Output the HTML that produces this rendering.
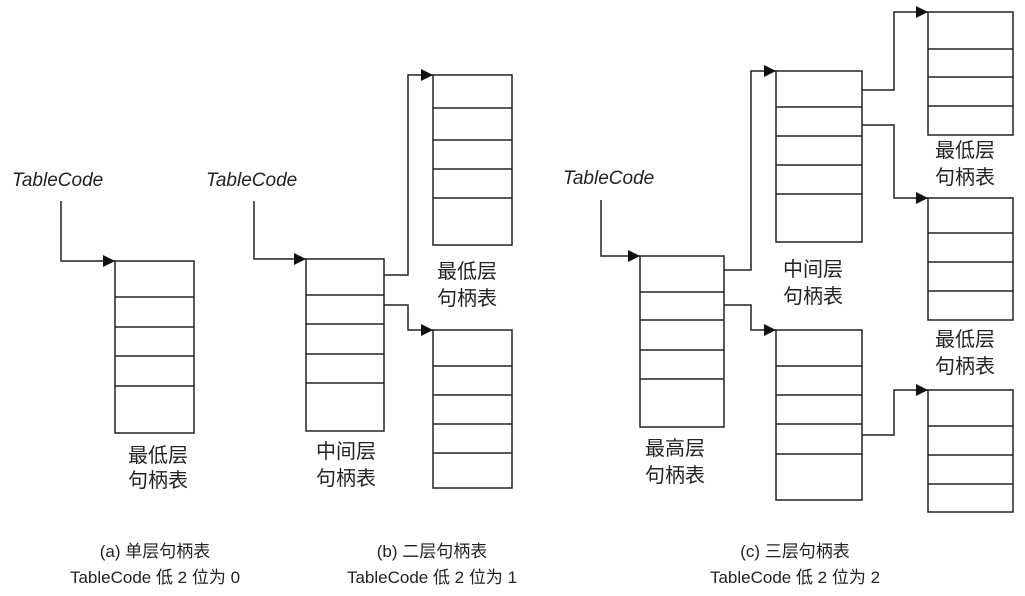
<!DOCTYPE html>
<html><head><meta charset="utf-8"><style>
html,body{margin:0;padding:0;background:#fff;}
svg{display:block;}
text{font-family:"Liberation Sans","Noto Sans CJK SC",sans-serif;fill:#222;}
.lbl{font-size:20px;text-anchor:middle;}
.cap{font-size:17px;text-anchor:middle;}
.tc{font-size:19px;font-style:italic;}
</style></head><body>
<svg width="1025" height="596" viewBox="0 0 1025 596" xmlns="http://www.w3.org/2000/svg">
<defs><marker id="ar" viewBox="0 0 10 10" refX="10" refY="5" markerWidth="14" markerHeight="12" markerUnits="userSpaceOnUse" orient="auto"><path d="M0,0 L10,5 L0,10 z" fill="#111"/></marker></defs>
<g fill="none" stroke="#222" stroke-width="1.5">
<!-- (a) -->
<rect x="115" y="261" width="79" height="172"/>
<path d="M115 297H194M115 327H194M115 356H194M115 386H194"/>
<path d="M61 201V261H115" marker-end="url(#ar)"/>
<!-- (b) -->
<rect x="306" y="259" width="78" height="172"/>
<path d="M306 295H384M306 324H384M306 354H384M306 383H384"/>
<path d="M254 201V259H306" marker-end="url(#ar)"/>
<rect x="433" y="75" width="79" height="170"/>
<path d="M433 108H512M433 140H512M433 169H512M433 198H512"/>
<path d="M384 275H408V75H433" marker-end="url(#ar)"/>
<rect x="433" y="330" width="79" height="158"/>
<path d="M433 366H512M433 395H512M433 424H512M433 453H512"/>
<path d="M384 305H408V330H433" marker-end="url(#ar)"/>
<!-- (c) -->
<rect x="640" y="256" width="84" height="171"/>
<path d="M640 292H724M640 320H724M640 350H724M640 379H724"/>
<path d="M601 200V256H640" marker-end="url(#ar)"/>
<rect x="776" y="71" width="86" height="171"/>
<path d="M776 107H862M776 136H862M776 165H862M776 194H862"/>
<path d="M724 270H751V71H776" marker-end="url(#ar)"/>
<rect x="776" y="330" width="86" height="170"/>
<path d="M776 366H862M776 395H862M776 424H862M776 454H862"/>
<path d="M724 305H751V330H776" marker-end="url(#ar)"/>
<rect x="928" y="12" width="85" height="123"/>
<path d="M928 49H1013M928 77H1013M928 106H1013"/>
<path d="M862 90H894V12H928" marker-end="url(#ar)"/>
<rect x="928" y="198" width="85" height="122"/>
<path d="M928 233H1013M928 262H1013M928 291H1013"/>
<path d="M862 125H894V198H928" marker-end="url(#ar)"/>
<rect x="928" y="390" width="85" height="122"/>
<path d="M928 426H1013M928 455H1013M928 484H1013"/>
<path d="M862 435H894V390H928" marker-end="url(#ar)"/>
</g>
<text class="tc" x="12" y="186">TableCode</text>
<text class="tc" x="206" y="186">TableCode</text>
<text class="tc" x="563" y="184">TableCode</text>
<text class="lbl" x="158" y="462">最低层</text><text class="lbl" x="158" y="487">句柄表</text>
<text class="lbl" x="346" y="458">中间层</text><text class="lbl" x="346" y="485">句柄表</text>
<text class="lbl" x="467" y="278">最低层</text><text class="lbl" x="467" y="305">句柄表</text>
<text class="lbl" x="813" y="276">中间层</text><text class="lbl" x="813" y="303">句柄表</text>
<text class="lbl" x="675" y="455">最高层</text><text class="lbl" x="675" y="482">句柄表</text>
<text class="lbl" x="965" y="157">最低层</text><text class="lbl" x="965" y="184">句柄表</text>
<text class="lbl" x="965" y="346">最低层</text><text class="lbl" x="965" y="373">句柄表</text>
<text class="cap" x="155" y="557">(a) 单层句柄表</text><text class="cap" x="155" y="583">TableCode 低 2 位为 0</text>
<text class="cap" x="432" y="557">(b) 二层句柄表</text><text class="cap" x="432" y="583">TableCode 低 2 位为 1</text>
<text class="cap" x="795" y="557">(c) 三层句柄表</text><text class="cap" x="795" y="583">TableCode 低 2 位为 2</text>
</svg>
</body></html>
